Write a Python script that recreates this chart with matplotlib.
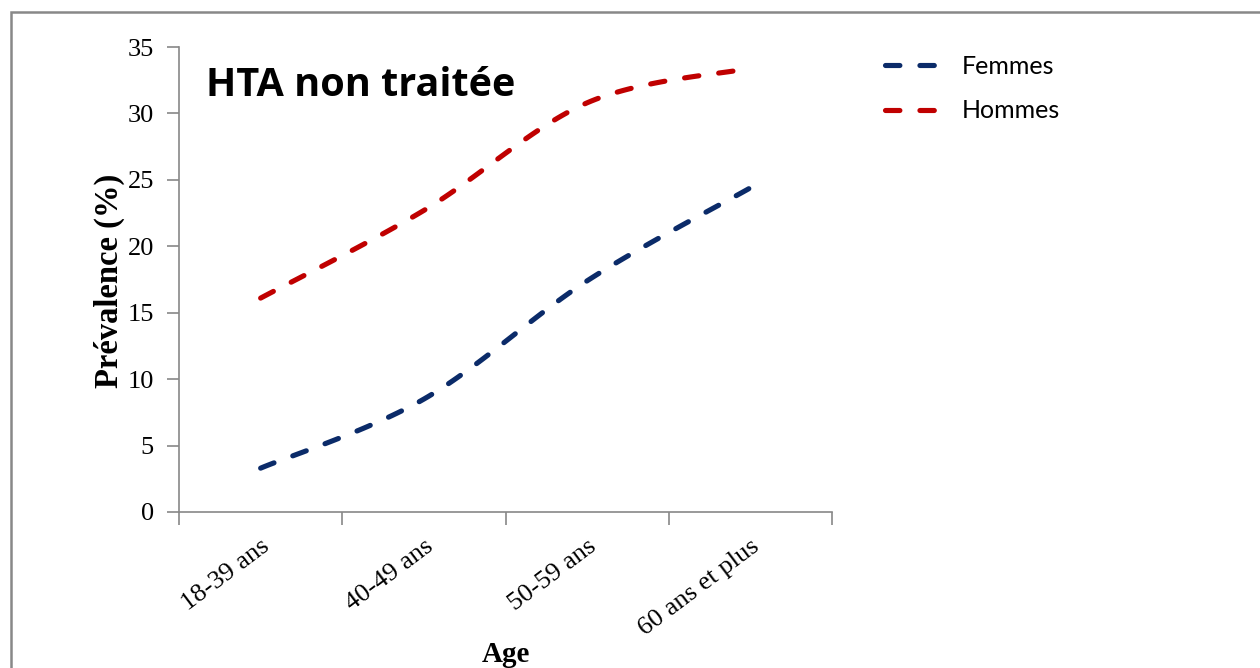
import numpy as np
import matplotlib
matplotlib.use("Agg")
import matplotlib.pyplot as plt
from matplotlib.patches import Rectangle

# ---------- data ---------- #
categories = ["18-39 ans", "40-49 ans", "50-59 ans", "60 ans et plus"]
femmes = [3.3, 8.5, 17.4, 24.4]
hommes = [16.1, 22.7, 30.8, 33.4]

# ---------- smoothing like Excel (Catmull-Rom) ---------- #
def smooth(xs, ys, n=40):
    x = np.asarray(xs, float); y = np.asarray(ys, float)
    px = np.r_[x[0], x, x[-1]]; py = np.r_[y[0], y, y[-1]]
    ox, oy = [], []
    t = np.linspace(0, 1, n)
    for i in range(1, len(px) - 2):
        p0, p1, p2, p3 = (np.array([px[j], py[j]]) for j in (i - 1, i, i + 1, i + 2))
        c1 = p1 + (p2 - p0) / 6
        c2 = p2 - (p3 - p1) / 6
        pts = ((1 - t) ** 3)[:, None] * p1 + (3 * (1 - t) ** 2 * t)[:, None] * c1 \
            + (3 * (1 - t) * t ** 2)[:, None] * c2 + (t ** 3)[:, None] * p2
        ox.extend(pts[:, 0]); oy.extend(pts[:, 1])
    return ox, oy

fig = plt.figure(figsize=(12.6, 6.68), dpi=100)
ax = fig.add_axes([179 / 1260, 156 / 668, 653 / 1260, 465 / 668])

xpos = np.arange(len(categories))
for vals, col, lbl in [(femmes, "#0B2B69", "Femmes"), (hommes, "#C00000", "Hommes")]:
    sx, sy = smooth(xpos, vals)
    ax.plot(sx, sy, color=col, lw=3.7, dashes=(2.8, 3.9),
            dash_capstyle="round", solid_capstyle="round", label=lbl)

ax.set_xlim(-0.5, len(categories) - 0.5)
ax.set_ylim(0, 35)
ax.set_yticks(range(0, 36, 5))
ax.set_xticks(np.arange(-0.5, len(categories), 1.0))
ax.set_xticklabels([])
ax.set_xticks(xpos, minor=True)
ax.set_xticklabels(categories, minor=True, rotation=37, ha="right",
                   rotation_mode="anchor", fontsize=19, family="Liberation Serif")
ax.tick_params(axis="x", which="minor", length=0, pad=17)
ax.tick_params(axis="both", which="major", length=9, width=1.2, color="#888888",
               direction="out")
ax.tick_params(axis="y", labelsize=19, pad=9)
for lab in ax.get_yticklabels():
    lab.set_family("Liberation Serif")

for s in ("top", "right"):
    ax.spines[s].set_visible(False)
for s in ("left", "bottom"):
    ax.spines[s].set_color("#888888")
    ax.spines[s].set_linewidth(1.2)

fig.text(109 / 1260, 1 - 281 / 668, "Prévalence (%)", fontsize=23.5,
         fontweight="bold", family="Liberation Serif", rotation=90,
         ha="center", va="center")
fig.text(506 / 1260, 1 - 655 / 668, "Age", fontsize=21, fontweight="bold",
         family="Liberation Serif", ha="center", va="center")

fig.text(206 / 1260, 1 - 85 / 668, "HTA non traitée", fontsize=28.5,
         fontweight="bold", family="Open Sans", ha="left", va="center")

leg = fig.legend(loc="upper left", bbox_to_anchor=(885 / 1260, 1 - 55 / 668),
                 frameon=False, borderpad=0, borderaxespad=0,
                 handlelength=2.2, labelspacing=0.85, handletextpad=0.87,
                 prop={"family": "Lato", "size": 18})

# outer frame (chart area border)
fig.add_artist(Rectangle((11 / 1260, -0.05), 1.1, 1 - 12 / 668 + 0.05,
                         transform=fig.transFigure, fill=False,
                         edgecolor="#888888", lw=1.8))

fig.savefig("out.png", dpi=100)
